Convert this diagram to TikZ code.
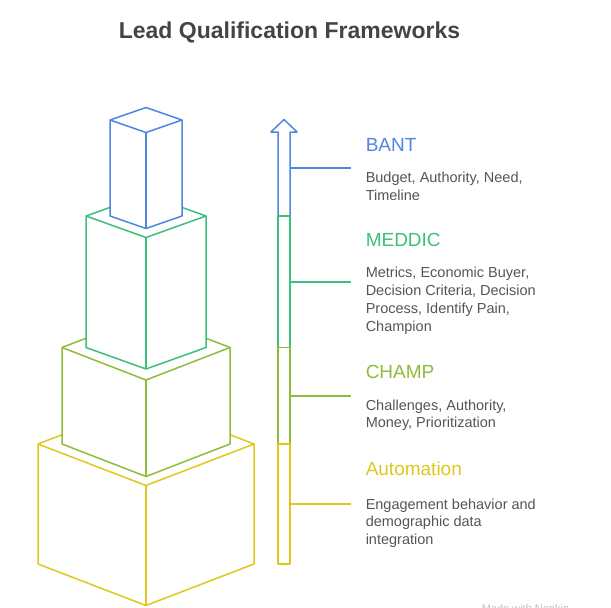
\documentclass[tikz,border=0pt]{standalone}
\usepackage{fontspec}
\setmainfont{Liberation Sans}
\definecolor{bantblue}{HTML}{4F86E0}
\definecolor{meddicgreen}{HTML}{3CBF7C}
\definecolor{champolive}{HTML}{8FBC3A}
\definecolor{autoyellow}{HTML}{DFC71B}
\definecolor{bodygray}{HTML}{555555}
\definecolor{titlegray}{HTML}{444444}

\begin{document}
\begin{tikzpicture}[x=1pt, y=-1pt, line width=1.5pt, line join=round,
	head/.style={anchor=base west, inner sep=0pt, font=\fontsize{19}{23}\selectfont},
	body/.style={anchor=base west, inner sep=0pt, align=left, text=bodygray, font=\fontsize{14.5}{17.8}\selectfont}]
	\useasboundingbox (0,0) rectangle (611,608);
	\node[anchor=base, inner sep=0pt, text=titlegray, font=\fontsize{23}{28}\selectfont\bfseries] (title) at (289.5,38.3) {Lead Qualification Frameworks};
	% stacked boxes, bottom first
	\draw[autoyellow, fill=white] (38,444) -- (146,402.5) -- (254,444) -- (254,564) -- (146,605.5) -- (38,564) -- cycle;
	\draw[autoyellow] (38,444) -- (146,485.5) -- (254,444);
	\draw[autoyellow] (146,485.5) -- (146,605.5);
	\draw[champolive, fill=white] (62,347.5) -- (146,315) -- (230,347.5) -- (230,444) -- (146,476.5) -- (62,444) -- cycle;
	\draw[champolive] (62,347.5) -- (146,380) -- (230,347.5);
	\draw[champolive] (146,380) -- (146,476.5);
	\draw[meddicgreen, fill=white] (86,216) -- (146,194.5) -- (206,216) -- (206,347.5) -- (146,369) -- (86,347.5) -- cycle;
	\draw[meddicgreen] (86,216) -- (146,237.5) -- (206,216);
	\draw[meddicgreen] (146,237.5) -- (146,369);
	\draw[bantblue, fill=white] (110,120) -- (146,107.5) -- (182,120) -- (182,216) -- (146,228.5) -- (110,216) -- cycle;
	\draw[bantblue] (110,120) -- (146,132.5) -- (182,120);
	\draw[bantblue] (146,132.5) -- (146,228.5);
	% arrow bar
	\draw[bantblue] (278,216) -- (278,132) -- (271,132) -- (284,119.5) -- (297,132) -- (290,132) -- (290,216) -- cycle;
	\draw[meddicgreen] (278,216) rectangle (290,347.5);
	\draw[champolive] (278,347.5) rectangle (290,444);
	\draw[autoyellow] (278,444) rectangle (290,564);
	% ticks
	\coordinate (bantA) at (290,168);
	\coordinate (bantB) at (351,168);
	\coordinate (meddicA) at (290,282);
	\coordinate (meddicB) at (351,282);
	\coordinate (champA) at (290,396);
	\coordinate (champB) at (351,396);
	\coordinate (autoA) at (290,504);
	\coordinate (autoB) at (351,504);
	\draw[bantblue] (bantA) -- (bantB);
	\draw[meddicgreen] (meddicA) -- (meddicB);
	\draw[champolive] (champA) -- (champB);
	\draw[autoyellow] (autoA) -- (autoB);
	% labels
	\node[head, text=bantblue] (bant) at (365,151.7) {BANT};
	\node[body] (bantText) at (365,200.5) {Budget, Authority, Need,\\Timeline};
	\node[head, text=meddicgreen] (meddic) at (365,246.7) {MEDDIC};
	\node[body] (meddicText) at (365,331.1) {Metrics, Economic Buyer,\\Decision Criteria, Decision\\Process, Identify Pain,\\Champion};
	\node[head, text=champolive] (champ) at (365,378.3) {CHAMP};
	\node[body] (champText) at (365,427.8) {Challenges, Authority,\\Money, Prioritization};
	\node[head, text=autoyellow] (auto) at (365,475) {Automation};
	\node[body] (autoText) at (365,544.6) {Engagement behavior and\\demographic data\\integration};
	\node[anchor=base west, inner sep=0pt, text=black!25, font=\fontsize{11}{13}\selectfont] (credit) at (481,612) {Made with Napkin};
\end{tikzpicture}
\end{document}
